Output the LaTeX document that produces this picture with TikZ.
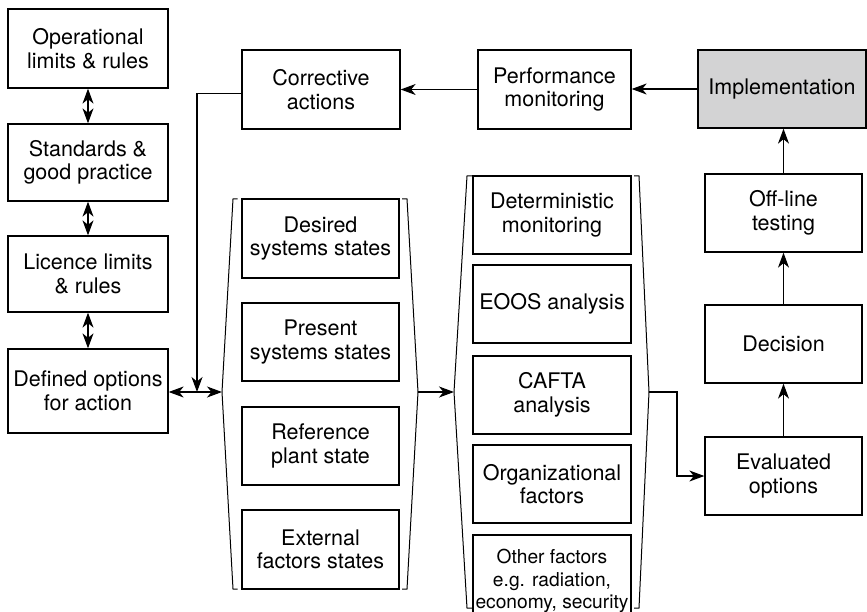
\documentclass[tikz,border=0pt]{standalone}
\usepackage{fontspec}
\setmainfont{TeX Gyre Heros}
\usetikzlibrary{arrows.meta}
\definecolor{boxgray}{HTML}{D3D3D4}
\begin{document}
\begin{tikzpicture}[x=1pt,y=-1pt,
  box/.style={draw, line width=1.3pt, rectangle, align=center, inner sep=0pt,
    font=\fontsize{21.5}{23.5}\selectfont},
  wbox/.style={box, minimum width=160pt},
  tip/.tip={Stealth[length=15pt,width=11pt,inset=4.5pt]},
  conn/.style={line width=1.2pt, -tip},
  dconn/.style={line width=1.2pt, tip-tip},
  brk/.style={line width=1pt, line join=miter}]
\useasboundingbox (0,0) rectangle (867,612);
\clip (0,0) rectangle (867,612);

% left column of constraints
\node[wbox, minimum height=79pt] (op)  at (88,48.5) {Operational\\limits \& rules};
\node[wbox, minimum height=77pt] (std) at (88,162.5) {Standards \&\\good practice};
\node[wbox, minimum height=76pt] (lic) at (88,274) {Licence limits\\\& rules};
\node[wbox, minimum height=84pt] (def) at (88,391) {Defined options\\for action};

% top row
\node[box, minimum width=158pt, minimum height=79pt] (corr) at (321,89.5) {Corrective\\actions};
\node[box, minimum width=153pt, minimum height=79pt] (perf) at (554.5,89.5) {Performance\\monitoring};
\node[box, fill=boxgray, minimum width=168pt, minimum height=78pt] (impl) at (782,89) {Implementation};

% right column
\node[box, minimum width=157pt, minimum height=78pt] (off)  at (783.5,213) {Off-line\\testing};
\node[box, minimum width=157pt, minimum height=78pt] (dec)  at (783.5,344) {Decision};
\node[box, minimum width=157pt, minimum height=78pt] (eval) at (783.5,476) {Evaluated\\options};

% plant states group
\node[box, minimum width=157pt, minimum height=79pt] (des)  at (320.5,238.5) {Desired\\systems states};
\node[box, minimum width=157pt, minimum height=78pt] (pres) at (320.5,342) {Present\\systems states};
\node[box, minimum width=157pt, minimum height=78pt] (ref)  at (320.5,446) {Reference\\plant state};
\node[box, minimum width=157pt, minimum height=79pt] (ext)  at (320.5,549.5) {External\\factors states};

% analysis group
\node[box, minimum width=158pt, minimum height=78pt] (det)   at (552,215) {Deterministic\\monitoring};
\node[box, minimum width=158pt, minimum height=78pt] (eoos)  at (552,304) {EOOS analysis};
\node[box, minimum width=158pt, minimum height=78pt] (cafta) at (552,395) {CAFTA\\analysis};
\node[box, minimum width=158pt, minimum height=78pt] (org)   at (552,484) {Organizational\\factors};
\node[box, minimum width=158pt, minimum height=92pt, font=\fontsize{19.2}{22.5}\selectfont] (oth) at (552,581) {Other factors\\e.g. radiation,\\economy, security};

% brackets around the groups
\coordinate (la1) at (222,392);
\coordinate (ra1) at (418,392);
\coordinate (la2) at (454,392);
\coordinate (ra2) at (649,392);
\draw[brk] (237.5,199) -- (233,199) -- (la1) -- (233,589) -- (237.5,589);
\draw[brk] (402,199) -- (407,199) -- (ra1) -- (407,589) -- (402,589);
\draw[brk] (472,176) -- (467,176) -- (la2) -- (467,608) -- (472,608);
\draw[brk] (634,176) -- (639,176) -- (ra2) -- (639,608) -- (634,608);

% connectors
\draw[dconn] (op) -- (std);
\draw[dconn] (std) -- (lic);
\draw[dconn] (lic) -- (def);
\draw[dconn] (def.east |- la1) -- (la1);
\coordinate (join) at (197,392);
\coordinate (cw) at ([yshift=-4pt]corr.west);
\draw[conn] (cw) -| (join);
\draw[conn] (perf) -- (corr);
\draw[conn] (impl.west) -- (perf.east |- impl.west);
\draw[conn] (off) -- (impl.south -| off);
\draw[conn] (dec) -- (off);
\draw[conn] (eval) -- (dec);
\draw[conn] (ra1) -- (la2);
\coordinate (turn) at (677,392);
\draw[conn] (ra2) -- (turn) |- (eval.west);
\end{tikzpicture}
\end{document}
